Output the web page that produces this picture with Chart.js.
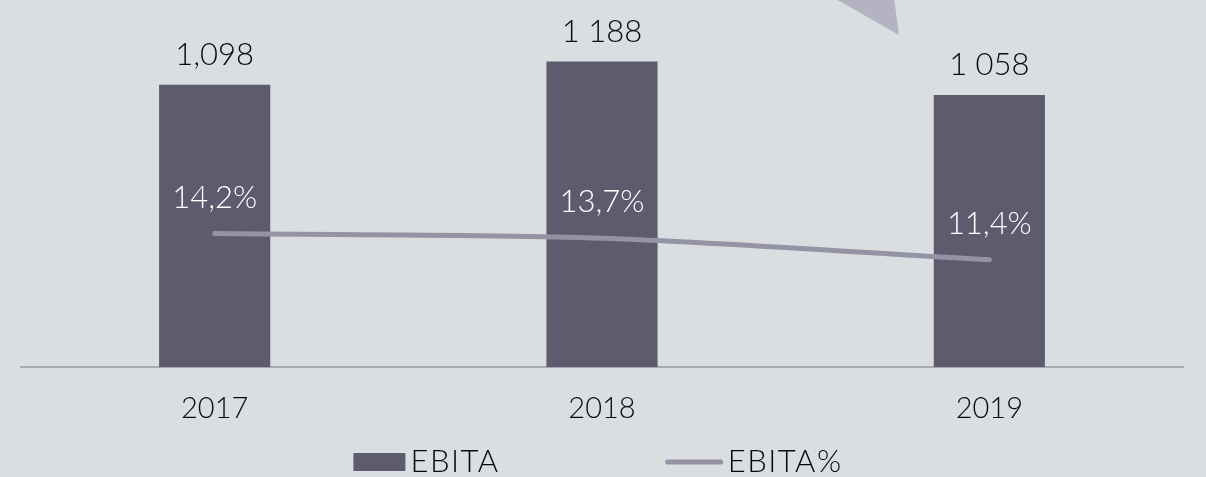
<!DOCTYPE html>
<html>
<head>
<meta charset="utf-8">
<script src="https://cdn.jsdelivr.net/npm/chart.js@4"></script>
<style>
  html, body { margin: 0; padding: 0; background: #d9dee0; }
  #wrap { width: 1206px; height: 477px; position: relative; }
</style>
</head>
<body>
<div id="wrap"><canvas id="ebitaChart"></canvas></div>
<script>
const years = ['2017', '2018', '2019'];
const ebita = [1098, 1188, 1058];
const ebitaLabels = ['1,098', '1 188', '1 058'];
const ebitaPct = [14.2, 13.7, 11.4];

const FONT = "Lato, 'Noto Sans', sans-serif";
const BAR_COLOR = '#5e5b6e';
const LINE_COLOR = '#9793a7';
const TEXT_COLOR = '#0a0a0a';

// value labels above bars and percent labels above line points
const labelPlugin = {
    id: 'valueLabels',
    afterDatasetsDraw(chart) {
        const ctx = chart.ctx;
        ctx.save();
        ctx.textAlign = 'center';
        ctx.textBaseline = 'middle';
        ctx.font = '300 31px ' + FONT;

        const bars = chart.getDatasetMeta(0).data;
        ctx.fillStyle = TEXT_COLOR;
        bars.forEach((bar, i) => {
            ctx.fillText(ebitaLabels[i], bar.x, bar.y - 30);
        });

        const points = chart.getDatasetMeta(1).data;
        ctx.fillStyle = '#ffffff';
        points.forEach((pt, i) => {
            ctx.fillText(ebitaPct[i].toFixed(1).replace('.', ',') + '%', pt.x, pt.y - 36);
        });
        ctx.restore();
    }
};

// grey arrow tip at the top, plus a hand-laid legend
const decorPlugin = {
    id: 'decor',
    beforeDraw(chart) {
        const ctx = chart.ctx;
        ctx.save();
        ctx.fillStyle = '#b4b3c1';
        ctx.beginPath();
        ctx.moveTo(820, -10);
        ctx.lineTo(893, -10);
        ctx.lineTo(899, 35);
        ctx.closePath();
        ctx.fill();
        ctx.restore();
    },
    afterDraw(chart) {
        const ctx = chart.ctx;
        const ds = chart.data.datasets;
        ctx.save();
        ctx.font = '300 31px ' + FONT;
        ctx.letterSpacing = '1.5px';
        ctx.textBaseline = 'middle';
        ctx.textAlign = 'left';
        const y = 462;
        const symW = [52, 57];
        const gapText = 5;
        const gapItems = 166;
        const widths = ds.map((d, i) => symW[i] + gapText + ctx.measureText(d.label).width);
        const total = widths[0] + gapItems + widths[1];
        let x = chart.width / 2 - 5 - total / 2;

        // bar item
        ctx.fillStyle = ds[0].backgroundColor;
        ctx.fillRect(x, y - 9, symW[0], 18);
        ctx.fillStyle = TEXT_COLOR;
        ctx.fillText(ds[0].label, x + symW[0] + gapText, y);
        x += widths[0] + gapItems;

        // line item
        ctx.strokeStyle = ds[1].borderColor;
        ctx.lineWidth = ds[1].borderWidth;
        ctx.lineCap = 'round';
        ctx.beginPath();
        ctx.moveTo(x + 2, y);
        ctx.lineTo(x + symW[1] - 2, y);
        ctx.stroke();
        ctx.fillStyle = TEXT_COLOR;
        ctx.fillText(ds[1].label, x + symW[1] + gapText, y);
        ctx.restore();
    }
};

const ctx = document.getElementById('ebitaChart').getContext('2d');
new Chart(ctx, {
    data: {
        labels: years,
        datasets: [
            {
                type: 'bar',
                label: 'EBITA',
                data: ebita,
                backgroundColor: BAR_COLOR,
                yAxisID: 'y',
                categoryPercentage: 1,
                barPercentage: 0.287,
                order: 1
            },
            {
                type: 'line',
                label: 'EBITA%',
                data: ebitaPct,
                borderColor: LINE_COLOR,
                backgroundColor: LINE_COLOR,
                borderWidth: 5,
                borderCapStyle: 'round',
                pointRadius: 0,
                tension: 0.3,
                yAxisID: 'y1',
                order: 0
            }
        ]
    },
    options: {
        responsive: true,
        maintainAspectRatio: false,
        animation: false,
        layout: {
            padding: { left: 21, right: 23, top: 0, bottom: 27 }
        },
        scales: {
            x: {
                grid: { display: false, drawTicks: false },
                border: { display: true, color: '#a9abae', width: 2 },
                ticks: {
                    color: TEXT_COLOR,
                    padding: 24,
                    font: { family: FONT, size: 29, weight: '300' }
                }
            },
            y: {
                display: false,
                min: 0,
                max: 1427
            },
            y1: {
                display: false,
                min: 0,
                max: 39
            }
        },
        plugins: {
            legend: { display: false },
            title: { display: false },
            tooltip: { enabled: false }
        }
    },
    plugins: [labelPlugin, decorPlugin]
});
</script>
</body>
</html>
